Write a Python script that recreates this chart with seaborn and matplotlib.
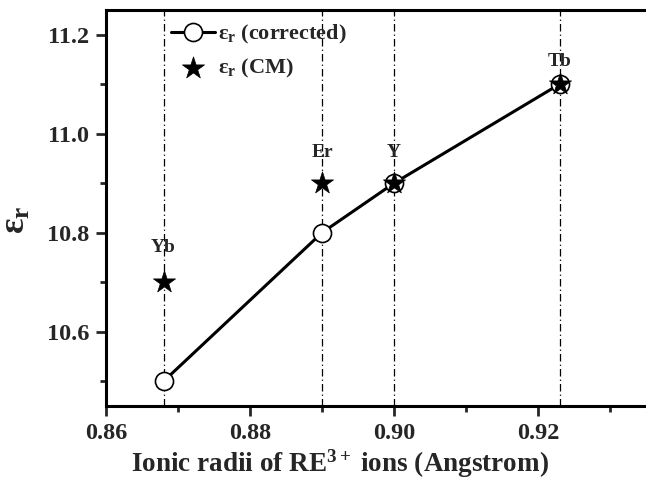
import matplotlib
matplotlib.use("Agg")
import matplotlib.pyplot as plt
import seaborn as sns
import pandas as pd

# data
ions = ["Yb", "Er", "Y", "Tb"]
radii = [0.868, 0.890, 0.900, 0.923]
eps_corrected = [10.5, 10.8, 10.9, 11.1]
eps_cm = [10.7, 10.9, 10.9, 11.1]
x_ticks = [0.86, 0.88, 0.90, 0.92]
y_ticks = [10.6, 10.8, 11.0, 11.2]

sns.set_theme(style="ticks")
plt.rcParams["font.family"] = ["Liberation Serif", "DejaVu Serif"]
plt.rcParams["font.weight"] = "bold"
plt.rcParams["mathtext.fontset"] = "custom"
plt.rcParams["mathtext.rm"] = "Liberation Serif:bold"
plt.rcParams["mathtext.bf"] = "Liberation Serif:bold"
plt.rcParams["mathtext.it"] = "Liberation Serif:bold"

df = pd.DataFrame({"ion": ions, "r": radii, "corr": eps_corrected, "cm": eps_cm})

fig = plt.figure(figsize=(6.46, 4.94), dpi=100)
ax = fig.add_axes([0.164, 0.178, 0.836, 0.802])

for xv in df["r"]:
    ax.axvline(xv, color="black", lw=0.9, ls=(0, (6, 2.5, 1, 2.5)), zorder=1)

sns.lineplot(data=df, x="r", y="corr", ax=ax, color="black", lw=2.2,
             marker="o", markersize=13, markerfacecolor="white",
             markeredgecolor="black", markeredgewidth=1.2, zorder=3,
             label=r"ε$_{\mathbf{r}}$ (corrected)")
sns.scatterplot(data=df, x="r", y="cm", ax=ax, color="black", marker="*",
                s=280, edgecolor="black", linewidth=0.5, zorder=4,
                label=r"ε$_{\mathbf{r}}$ (CM)")

offsets = [19, 16, 16, 10]
for name, xv, yv, off in zip(df["ion"], df["r"], df["cm"], offsets):
    ax.annotate(name, (xv, yv), xytext=(0, off), textcoords="offset points",
                ha="center", va="bottom", fontsize=14, fontweight="bold")

ax.set_xlim(0.86, 0.935)
ax.set_ylim(10.45, 11.25)
ax.set_xticks(x_ticks)
ax.set_xticklabels([f"{v:.2f}" for v in x_ticks])
ax.set_yticks(y_ticks)
ax.set_yticklabels([f"{v:.1f}" for v in y_ticks])
ax.set_xticks([0.87, 0.89, 0.91, 0.93], minor=True)
ax.set_yticks([10.5, 10.7, 10.9, 11.1], minor=True)
ax.tick_params(axis="both", which="major", direction="out", length=7, width=2,
               labelsize=17.5, pad=5)
ax.tick_params(axis="both", which="minor", direction="out", length=4, width=2)
for lab in ax.get_xticklabels() + ax.get_yticklabels():
    lab.set_fontweight("bold")

for s in ["left", "bottom", "top"]:
    ax.spines[s].set_linewidth(2.2)
    ax.spines[s].set_color("black")
ax.spines["right"].set_visible(False)

ax.set_xlabel(r"Ionic radii of RE$^{\mathbf{3+}}$ ions (Angstrom)", fontsize=19.5,
              fontweight="bold")
ax.xaxis.set_label_coords(0.433, -0.105)
ax.set_ylabel(r"ε$_{\mathbf{r}}$", fontsize=26, fontweight="bold")
ax.yaxis.set_label_coords(-0.135, 0.47)

leg = ax.legend(loc="upper left", bbox_to_anchor=(0.095, 1.0), frameon=False,
                fontsize=16, handlelength=2.0, handletextpad=0.15,
                borderaxespad=0.2, labelspacing=0.5)
for t in leg.get_texts():
    t.set_fontweight("bold")

fig.savefig("out.png", dpi=100)
